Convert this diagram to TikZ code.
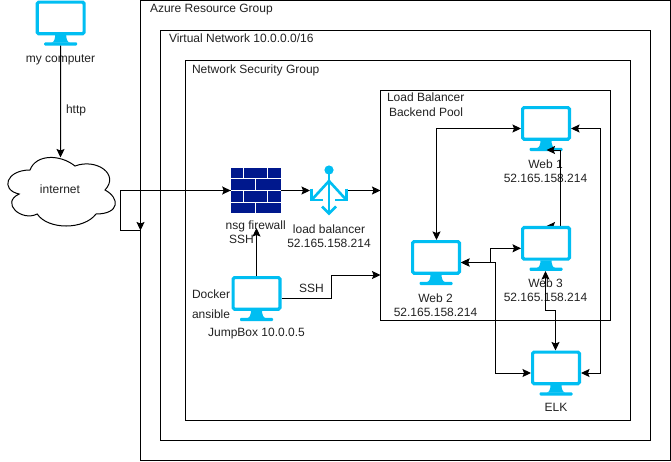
\documentclass[tikz,border=0pt]{standalone}
\usepackage{fontspec}
\setmainfont{Liberation Sans}
\usetikzlibrary{arrows.meta}
\definecolor{iconblue}{HTML}{00BEF2}
\definecolor{wallblue}{HTML}{00188D}
\definecolor{txt}{HTML}{222222}
\tikzset{
  x=1pt,y=-1pt,
  every node/.style={inner sep=0pt,outer sep=0pt},
  zone/.style={draw=black,line width=1pt,fill=none},
  lbl/.style={font=\fontsize{12}{14}\selectfont,text=txt,text height=8.8pt,text depth=2.6pt},
  lbltwo/.style={font=\fontsize{12}{14}\selectfont,text=txt,align=center},
  lbll/.style={font=\fontsize{12}{14}\selectfont,text=txt,anchor=west,text height=8.8pt,text depth=2.6pt},
  conn/.style={draw=black,line width=1pt,-{Stealth[length=8.5pt,width=8pt,inset=1.5pt]}},
  bconn/.style={draw=black,line width=1pt,{Stealth[length=8.5pt,width=8pt,inset=1.5pt]}-{Stealth[length=8.5pt,width=8pt,inset=1.5pt]}},
  plain/.style={draw=black,line width=1pt},
  monbox/.style={minimum width=50pt,minimum height=45pt},
  pics/mon/.style={code={
    \draw[iconblue,line width=3.2pt,fill=white,rounded corners=1.5pt] (-23.4,-20.9) rectangle (23.4,10.8);
    \fill[iconblue] (-5.5,12) .. controls (-5.5,16) and (-7,19.5) .. (-9,19.5) -- (9,19.5) .. controls (7,19.5) and (5.5,16) .. (5.5,12) -- cycle;
    \fill[iconblue,rounded corners=1pt] (-16.5,19.3) rectangle (16.5,22.5);
  }},
  brick/.style={fill=wallblue,draw=none},
  lbstroke/.style={draw=iconblue,line width=2.6pt},
}
\begin{document}
\begin{tikzpicture}
\useasboundingbox (0,0) rectangle (671,461);
\fill[white] (0,0) rectangle (671,461);

% zones
\node[zone,anchor=north west,minimum width=530pt,minimum height=460pt] (azure) at (140.5,0.5) {};
\node[zone,anchor=north west,minimum width=490pt,minimum height=410pt] (vnet) at (160.5,30.5) {};
\node[zone,anchor=north west,minimum width=445pt,minimum height=360pt] (nsg) at (185.5,60.5) {};
\node[zone,anchor=north west,minimum width=230pt,minimum height=230pt] (pool) at (380.5,90.5) {};
\node[lbll] (azuret) at (150,9) {Azure Resource Group};
\node[lbll] (vnett) at (169,39) {Virtual Network 10.0.0.0/16};
\node[lbll] (nsgt) at (192,70) {Network Security Group};
\node[lbll] (poolt1) at (387,98) {Load Balancer};
\node[lbll] (poolt2) at (389,113) {Backend Pool};

% cloud
\node[minimum width=120pt,minimum height=80pt] (cloud) at (60,190) {};
\draw[line width=1pt,fill=white] (30,170)
  .. controls (6,170) and (0,190) .. (19.2,194)
  .. controls (0,202.8) and (21.6,222) .. (37.2,214)
  .. controls (48,230) and (84,230) .. (96,214)
  .. controls (120,214) and (120,198) .. (105,190)
  .. controls (120,174) and (96,158) .. (75,166)
  .. controls (60,154) and (36,154) .. (30,170) -- cycle;
\coordinate (cloudtop) at (60.5,157.5);
\node[lbl] (cloudt) at (60,190) {internet};

% firewall
\node[minimum width=50pt,minimum height=45pt] (fw) at (255.7,190.3) {};
\foreach \a/\b/\c/\d in {
  230.7/168/243/178.4, 244/168/266.5/178.4, 267.5/168/280.7/178.4,
  230.7/179.4/255/190, 256/179.4/280.7/190,
  230.7/191/243/201.5, 244/191/266.5/201.5, 267.5/191/280.7/201.5,
  230.7/202.5/255/212.8, 256/202.5/280.7/212.8}
  {\fill[brick] (\a,\b) rectangle (\c,\d);}

% load balancer icon
\node[minimum width=38pt,minimum height=50pt] (lb) at (329,190) {};
\fill[iconblue] (329,170) circle (4.6);
\draw[lbstroke] (329,172) -- (329,212);
\draw[lbstroke] (329,181) -- (312.5,199);
\draw[lbstroke] (329,181) -- (345.5,199);
\draw[lbstroke,line join=miter] (311.7,188.5) -- (311.7,200) -- (323,200);
\draw[lbstroke,line join=miter] (346.3,188.5) -- (346.3,200) -- (335,200);
\draw[lbstroke,line join=miter] (322,206.5) -- (329,213.5) -- (336,206.5);

% monitors placed below their connectors
\node[monbox] (pc) at (60.7,23) {};
\pic at (pc.center) {mon};
\node[monbox] (jump) at (256.5,298.5) {};
\pic at (jump.center) {mon};
\node[monbox] (web1) at (546,128.5) {};
\pic at (web1.center) {mon};
\node[monbox] (web2) at (436,262.5) {};
\pic at (web2.center) {mon};
\node[monbox] (web3) at (546,248.3) {};
\node[monbox] (elk) at (556,373) {};

% labels
\node[lbl] (pct) at (60.5,59) {my computer};
\node[lbll] (httpt) at (66,110) {http};
\node[lbl] (fwt1) at (255.7,226) {nsg firewall};
\node[lbll] (fwt2) at (229,240) {SSH};
\node[lbltwo] (lbt) at (329,236.5) {load balancer\\52.165.158.214};
\node[lbll] (dockert) at (192,295) {Docker};
\node[lbll] (ansiblet) at (192,315) {ansible};
\node[lbl] (jumpt) at (256.5,333) {JumpBox 10.0.0.5};
\node[lbll] (ssht) at (299,289) {SSH};
\node[lbltwo] (web1t) at (545.5,171.5) {Web 1\\52.165.158.214};
\node[lbltwo] (web3t) at (545.5,290.5) {Web 3\\52.165.158.214};
\node[lbltwo] (web2t) at (435.5,305.5) {Web 2\\52.165.158.214};
\node[lbl] (elkt) at (556,408) {ELK};

% connectors
\draw[conn] (pc.south) -- (cloudtop);
\coordinate (azin) at (140.5,230.5);
\draw[plain] (azin) -- (120.5,230.5) -- (120.5,190.5) -- (fw.west |- 0,190.5);
\draw[conn] (120.5,190.5) -- (fw.west |- 0,190.5);
\draw[conn] (140.5,222) -- (azin);
\draw[conn] (fw.east |- 0,190.5) -- (lb.west |- 0,190.5);
\draw[conn] (lb.east |- 0,190.5) -- (pool.west |- 0,190.5);
\draw[conn] (jump.north) -- (256.5,228);
\draw[conn] (jump.east) -- (331,298.5) -- (331,275) -- (pool.west |- 0,275);
\draw[bconn] (web1.west) -- (436.5,128.5) -- (web2.north -| 436.5,0);
\draw[bconn] (web1.east) -- (600.5,128.5) -- (600.5,373) -- (elk.east);
\draw[conn] (560.5,226) -- (560.5,150) -- (546.5,150);
\draw[conn] (560.5,150) -- (560.5,226) -- (546.5,226);
\draw[bconn] (web2.east) -- (490.5,262.5) -- (490.5,248.3) -- (web3.west);
\draw[bconn] (web2.east) -- (495.5,262.5) -- (495.5,373) -- (elk.west);

\pic at (web3.center) {mon};
\pic at (elk.center) {mon};
\draw[bconn] (545.5,271) -- (545.5,310.5) -- (555.5,310.5) -- (555.5,350.5);
\end{tikzpicture}
\end{document}
